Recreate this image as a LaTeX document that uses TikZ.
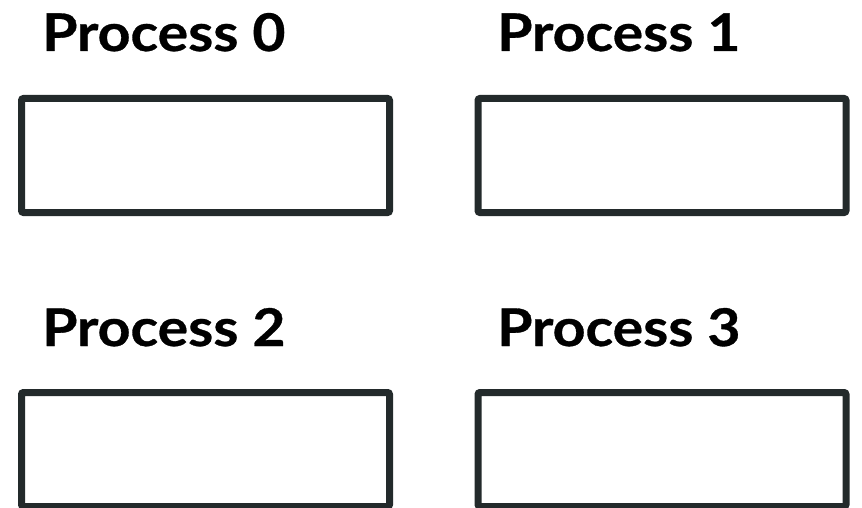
\documentclass[tikz,border=0pt]{standalone}
\usepackage{fontspec}
\setmainfont{Lato}
\newfontfamily\procfont[FakeStretch=1.1, FakeBold=0.6]{Lato Bold}
\usepackage{xcolor}
\usetikzlibrary{positioning}
\definecolor{boxgray}{HTML}{232A2B}

\begin{document}
\begin{tikzpicture}[
  x=1pt, y=-1pt,
  every node/.style={font=\procfont\fontsize{52}{60}\selectfont},
  pbox/.style={draw=boxgray, line width=7pt, rounded corners=2pt, fill=white,
    minimum width=368pt, minimum height=114pt, inner sep=0pt},
  plabel/.style={anchor=base west, inner sep=0pt, text=black}
]
\clip (0,0) rectangle (862,508);
\useasboundingbox (0,0) rectangle (862,508);
% Top row (process 0 and 1)
\foreach \n/\xl/\xc in {0/42/205.5, 1/497/662}{
  \node[plabel] (l\n) at (\xl, 51) {Process \n};
  \node[pbox] (p\n) at (\xc, 155.5) {};
}
% Bottom row (process 2 and 3)
\foreach \n/\xl/\xc in {2/42/205.5, 3/497/662}{
  \node[plabel] (l\n) at (\xl, 346) {Process \n};
  \node[pbox] (p\n) at (\xc, 449.5) {};
}
\end{tikzpicture}
\end{document}
